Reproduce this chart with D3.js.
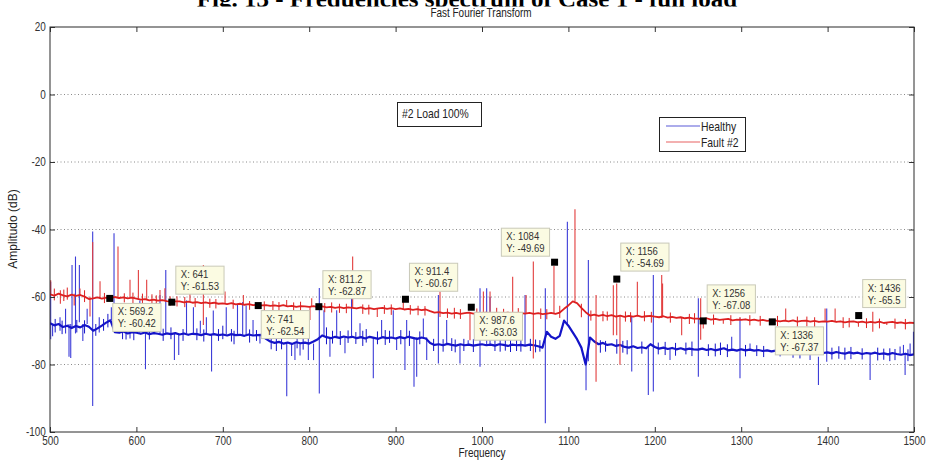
<!DOCTYPE html>
<html>
<head>
<meta charset="utf-8">
<script src="https://cdn.jsdelivr.net/npm/d3@7"></script>
<style>
body { margin: 0; background: #fff; }
svg { display: block; font-family: "Liberation Sans", Arial, sans-serif; }
</style>
</head>
<body>
<svg id="chart" width="927" height="461"></svg>
<script>
// frequency grid of the baselines (Hz), one value every 5 Hz
var freqs = d3.range(500, 1501, 5);

// Healthy spectrum baseline (dB)
var healthy = [
  -67.8, -68.4, -68.0, -68.9, -68.5, -69.2, -68.6, -69.0, -68.3, -68.8,
  -70.0, -69.3, -68.5, -67.6, -66.9, -70.4, -70.6, -70.2, -70.8, -70.4,
  -70.6, -70.9, -70.5, -71.0, -70.7, -70.9, -71.2, -70.8, -71.0, -70.7,
  -71.1, -70.8, -71.2, -70.9, -71.0, -71.3, -70.9, -71.2, -71.0, -71.3,
  -71.1, -71.4, -71.0, -71.3, -71.2, -71.5, -71.1, -71.4, -71.3, -71.2,
  -72.4, -73.2, -73.6, -73.3, -73.8, -73.5, -73.9, -73.4, -73.7, -73.5,
  -73.8, -73.2, -72.5, -71.4, -71.9, -72.2, -71.8, -72.1, -71.7, -72.0,
  -71.8, -72.2, -71.9, -72.3, -71.8, -72.1, -72.4, -71.9, -72.2, -72.0,
  -72.3, -71.9, -72.2, -71.8, -72.1, -72.4, -72.0, -72.3, -73.6, -74.2,
  -74.0, -74.3, -73.9, -74.2, -74.4, -74.0, -74.3, -74.1, -74.4, -74.2,
  -74.0, -74.3, -74.1, -74.4, -74.0, -74.2, -74.5, -74.1, -74.3, -74.2,
  -74.4, -74.1, -74.3, -74.6, -75.0, -70.3, -71.8, -72.4, -71.5, -67.0,
  -68.5, -70.5, -72.5, -75.0, -80.0, -72.0, -73.2, -74.0, -73.6, -74.2,
  -74.0, -74.5, -74.2, -74.8, -75.0, -74.6, -75.1, -74.9, -75.2, -74.0,
  -74.8, -75.3, -75.0, -75.4, -75.1, -75.5, -75.2, -75.6, -75.3, -75.5,
  -75.6, -75.3, -75.7, -75.4, -75.8, -75.5, -75.2, -75.8, -75.6, -75.9,
  -75.5, -75.8, -75.6, -75.9, -75.7, -76.0, -75.8, -76.1, -75.9, -76.0,
  -76.2, -75.9, -76.3, -76.0, -76.4, -76.1, -76.3, -76.5, -76.2, -76.6,
  -76.4, -76.7, -76.3, -76.6, -76.8, -76.4, -76.7, -76.5, -76.9, -76.6,
  -76.8, -76.5, -76.9, -76.7, -77.0, -76.6, -76.9, -77.1, -76.8, -77.2,
  -77.0
];

// Fault #2 spectrum baseline (dB)
var fault = [
  -59.2, -59.6, -59.0, -59.5, -59.8, -59.3, -59.7, -59.4, -59.9, -60.6,
  -60.4, -60.1, -60.5, -60.2, -60.4, -60.0, -60.3, -60.1, -60.4, -60.2,
  -60.5, -60.8, -60.6, -61.0, -60.8, -61.1, -60.9, -61.2, -61.4, -61.3,
  -61.3, -61.6, -61.4, -61.7, -61.5, -61.8, -61.6, -61.9, -61.7, -62.0,
  -61.9, -62.1, -61.8, -62.2, -62.0, -62.3, -62.1, -62.4, -62.3, -62.5,
  -62.4, -62.6, -62.5, -62.7, -62.4, -62.8, -62.6, -62.9, -62.7, -62.8,
  -62.9, -62.7, -63.0, -62.8, -63.1, -62.9, -63.2, -63.0, -63.3, -63.1,
  -63.2, -63.4, -63.1, -63.5, -63.3, -63.6, -63.4, -63.2, -63.5, -63.3,
  -63.6, -63.4, -63.7, -63.5, -63.8, -63.6, -63.9, -63.7, -64.2, -64.6,
  -64.5, -64.8, -64.6, -64.9, -64.7, -65.0, -64.8, -64.6, -64.9, -64.7,
  -64.8, -64.6, -64.9, -64.7, -65.0, -64.8, -64.6, -64.9, -64.7, -64.8,
  -64.9, -64.7, -65.0, -64.8, -65.1, -64.9, -64.7, -65.0, -64.6, -63.5,
  -62.5, -61.3, -61.8, -63.2, -64.5, -65.5, -65.2, -65.6, -65.3, -65.7,
  -65.4, -65.8, -65.5, -65.9, -65.6, -65.8, -65.5, -65.9, -65.7, -65.6,
  -65.8, -66.0, -65.7, -66.1, -65.9, -66.2, -66.0, -66.3, -66.1, -66.4,
  -66.4, -66.6, -66.3, -66.7, -66.5, -66.8, -66.6, -66.5, -66.9, -66.7,
  -66.8, -66.6, -66.9, -66.7, -67.0, -66.8, -67.1, -66.9, -67.0, -67.2,
  -67.0, -67.2, -66.9, -67.3, -67.1, -67.0, -67.3, -67.1, -67.4, -67.2,
  -67.3, -67.1, -67.4, -67.2, -67.5, -67.3, -67.2, -67.5, -67.3, -67.6,
  -67.4, -67.6, -67.3, -67.7, -67.5, -67.4, -67.7, -67.5, -67.8, -67.6,
  -67.7
];

// narrow peaks: [frequency, low dB, high dB]
var healthySpikes = [
  [500.8, -72.5, -55.5], [503, -71.6, -68], [511.6, -70, -66], [518, -70.8, -63.5],
  [522, -77.7, -68], [524, -78.1, -68], [525.5, -69, -50.5], [529.5, -70.8, -48],
  [534, -67.5, -50.5], [538, -73, -68], [543, -68, -63.5], [549.4, -92.3, -40.6],
  [557, -70.5, -66], [571, -66.8, -63], [574.1, -70, -41.1], [592.6, -72.3, -69],
  [604, -70.6, -61], [610.5, -81.4, -70.5], [621, -70.8, -62], [627.3, -70.8, -59.4],
  [634, -70.8, -52], [644, -78.7, -70.8], [649, -77.2, -70.8], [658, -70.8, -61],
  [666, -70.8, -63], [674, -70.8, -67], [681, -70.8, -66], [687, -82.1, -71],
  [689, -71, -64], [704, -71.1, -63], [717, -71.2, -62], [723, -71.2, -61.5],
  [727, -71.2, -62.5], [735, -71.2, -66.8], [743, -73.8, -71.2],
  [774, -89.4, -73.6], [779.6, -77.5, -73.6], [783.5, -78.7, -73.6], [789.4, -77.3, -73.6],
  [799, -78.7, -66.8], [805, -78.7, -73.8], [811.7, -88.6, -57.3], [817.1, -71.8, -63.9],
  [824, -77.7, -72], [831.8, -72, -63.9], [841.4, -76.7, -72], [849, -72, -55.9],
  [858.8, -72, -67.8], [874.2, -84.1, -72], [883.8, -72, -66.8], [897.3, -72, -63.9],
  [901.2, -75.7, -72], [910.8, -81.6, -72], [912.8, -72, -66.8], [921.3, -86.6, -72],
  [924.4, -83.6, -72], [932.1, -72, -66.4], [936, -78.7, -72], [949.5, -79.7, -59.4],
  [959.1, -74.2, -66.8], [974.5, -79.7, -74.2], [984, -74.2, -72.8], [997.7, -80.7, -57.4],
  [1005.4, -74.2, -57.4], [1009.3, -74.2, -59.9], [1049.8, -74.2, -59.4], [1073.3, -97.4, -57.4],
  [1098.8, -68, -37.7], [1120.4, -87.6, -80], [1123.1, -79, -49], [1173.3, -82.1, -65.8],
  [1192.5, -89, -74.9], [1198.3, -88, -53.5], [1217.6, -78.7, -75.2], [1250.4, -83.6, -60.4],
  [1289, -75.7, -71.8], [1298.6, -84.1, -66.3], [1310.2, -75.8, -73.8], [1379.7, -78.7, -76],
  [1389.4, -86.1, -77.7], [1399, -79.2, -63.4], [1449.2, -84.6, -76.7], [1483.9, -76.8, -74.7],
  [1487.8, -76.8, -74.2], [1489.7, -83.1, -76.8], [1495.5, -77, -73.8], [1499.4, -77, -70.3]
];

var faultSpikes = [
  [500.8, -59.5, -55], [512, -62, -58], [528, -62.5, -59], [534.7, -59.8, -57.5],
  [546.3, -65.8, -59.9], [549.4, -60.5, -43.7], [557.9, -60.4, -55.3], [578.7, -60.2, -45],
  [592.6, -60.2, -54.9], [602.3, -60.5, -52], [611.9, -60.8, -54.9], [627.3, -61, -57.9],
  [633, -61.1, -57.4], [662, -61.4, -57.9], [677.5, -68.3, -50.5], [702.6, -62, -58.4],
  [723.8, -62.1, -59.4], [773.9, -62.7, -60.9], [800.9, -66.8, -62.8], [802.9, -62.9, -60.4],
  [850.3, -63.2, -48], [878.8, -65.9, -63.4], [908.9, -63.7, -60.9], [951.4, -65.9, -58.4],
  [986.1, -72.8, -64.7], [1001.6, -64.8, -58.4], [1009.3, -64.8, -58.4], [1035.5, -64.8, -54],
  [1051, -64.8, -59.4], [1059.4, -78.2, -49.5], [1083.3, -64.8, -50.8], [1107.6, -61.3, -34],
  [1132, -85.1, -59.4], [1152, -71.3, -56.5], [1155.9, -71.3, -56], [1159.7, -80.1, -65.6],
  [1179.8, -65.7, -55.5], [1208, -66.2, -53.5], [1209, -66, -56], [1231.1, -71.3, -66.1],
  [1253.1, -72.7, -60.4], [1256.1, -69.3, -66.6], [1279.3, -67.9, -66.6], [1298.6, -66.7, -65.9],
  [1351.5, -67.1, -63.4], [1397.1, -67.2, -63.4], [1408.7, -67.3, -63.4], [1435.7, -68.8, -67.3],
  [1452.3, -70.3, -64.4], [1468.5, -68.3, -67.5]
];

// the small ripples that make the baselines look fuzzy: [frequency, low dB, high dB]
var healthyRipple = [
  [506, -70.5, -66.5], [514, -71, -67], [531, -70.5, -66.8], [540, -70.8, -66.9],
  [553, -71.5, -68], [562, -70, -66.5], [567, -69, -65], [584, -72.5, -69.2],
  [588, -72.6, -69.5], [597, -72.8, -69.3], [615, -72.6, -69.4], [631, -73, -69.4],
  [640, -72.5, -69], [654, -73, -69.5], [670, -72.8, -69.3], [678, -73.2, -69.6],
  [695, -73, -69.5], [700, -72.5, -68.5], [710, -73.2, -69.5], [713, -74, -70],
  [731, -73.5, -69.6], [739, -73, -69.8], [756, -75.5, -71.5], [762, -76, -72],
  [768, -75.5, -71.8], [786, -75.2, -72], [793, -75.6, -71.9], [820, -74, -69],
  [827, -73.8, -70], [836, -74.2, -70.1], [845, -73.6, -69.9], [854, -73.9, -70.4],
  [862, -74.5, -70], [866, -73.5, -69.5], [879, -74, -70.2], [888, -74.2, -69.8],
  [893, -73.6, -70], [906, -74, -69.8], [916, -74.5, -70], [928, -74, -70.2],
  [944, -76, -72.4], [955, -76.2, -72.5], [965, -76, -72.2], [969, -76.4, -72.6],
  [979, -76, -72.4], [990, -76.3, -72.5], [1015, -76, -72.6], [1021, -76.2, -72.4],
  [1027, -75.9, -72.5], [1033, -76.3, -72.2], [1040, -76, -72.6], [1045, -76.2, -72.3],
  [1056, -76, -72.4], [1062, -76.4, -72.6], [1067, -76.2, -72.8], [1137, -76.5, -72.8],
  [1143, -76.2, -73], [1156, -76.8, -72.5], [1163, -76.5, -73], [1168, -77, -72.8],
  [1185, -76.8, -73.2], [1204, -77, -73.5], [1212, -77.2, -73.3], [1224, -77.4, -73.6],
  [1236, -77, -73.5], [1243, -77.5, -73.2], [1262, -77.5, -74], [1270, -77.6, -73.8],
  [1276, -77.2, -73.5], [1284, -77.8, -74], [1305, -77.6, -74.2], [1318, -77.5, -74.3],
  [1326, -77.8, -74.5], [1345, -77.6, -74.6], [1360, -78, -74.5], [1368, -78.2, -74.8],
  [1405, -78.5, -75], [1413, -78.3, -74.6], [1420, -78.6, -75], [1427, -78.4, -74.8],
  [1440, -78.5, -75.2], [1458, -78.8, -75], [1465, -78.6, -75.3], [1472, -79, -75.2],
  [1478, -78.7, -75.4], [1493, -79, -75.5]
];

var faultRipple = [
  [505, -61, -57.5], [516, -61.2, -57.8], [520, -60.8, -57.2], [540, -61.5, -58],
  [563, -61.8, -58.8], [586, -61.6, -58.9], [596, -61.8, -58.7], [607, -62, -59],
  [618, -62.3, -59.2], [623, -62.2, -59.5], [639, -62.6, -59.8], [647, -62.8, -59.8],
  [656, -63, -60], [668, -63, -60.3], [685, -63.2, -60.5], [692, -63.4, -60.6],
  [712, -63.5, -60.8], [731, -63.8, -61.2], [748, -64, -61.3], [758, -64, -61.2],
  [765, -64.3, -61.5], [782, -64.4, -61.6], [790, -64.2, -61.4], [818, -64.5, -61.8],
  [826, -64.6, -61.6], [835, -64.7, -62], [843, -64.8, -62], [862, -65, -62.2],
  [869, -65.2, -62.3], [887, -65, -62.4], [895, -65.3, -62.2], [917, -65.2, -62.4],
  [926, -65.4, -62.6], [934, -65.5, -62.7], [960, -66.2, -63.4], [968, -66.4, -63.2],
  [975, -66.5, -63.6], [994, -66.5, -63.4], [1017, -66.4, -63.2], [1025, -66.6, -63.5],
  [1042, -66.4, -63.3], [1068, -66.5, -63.4], [1075, -66.6, -63.6], [1090, -66.2, -62.6],
  [1115, -66, -62], [1126, -67, -64], [1140, -67.2, -64.2], [1145, -67, -64.3],
  [1166, -67.3, -64.3], [1172, -67.5, -64.5], [1188, -67.2, -64.2], [1196, -67.6, -64.4],
  [1218, -67.6, -64.6], [1240, -68, -65], [1246, -67.8, -64.8], [1268, -68.2, -65.2],
  [1288, -68.3, -65.4], [1310, -68.4, -65.4], [1322, -68.5, -65.6], [1342, -68.6, -65.6],
  [1365, -68.8, -65.8], [1376, -68.7, -65.8], [1385, -69, -66], [1418, -69.2, -66],
  [1425, -69, -66.2], [1445, -69.2, -66.3], [1460, -69.3, -66.4], [1478, -69.4, -66.4],
  [1490, -69.6, -66.5]
];

// data cursors shown on the figure
var tipX = [569.2, 641, 741, 811.2, 911.4, 987.6, 1084, 1156, 1256, 1336, 1436];
var tipY = [-60.42, -61.53, -62.54, -62.87, -60.67, -63.03, -49.69, -54.69, -67.08, -67.37, -65.5];

var xTicks = [500, 600, 700, 800, 900, 1000, 1100, 1200, 1300, 1400, 1500];
var yTicks = [20, 0, -20, -40, -60, -80, -100];
var gridTicks = [0, -20, -40, -60, -80];
var seriesNames = ["Healthy", "Fault #2"];

var margin = {top: 27, right: 13, bottom: 29, left: 50},
    width = 927 - margin.left - margin.right,
    height = 461 - margin.top - margin.bottom;

var x = d3.scaleLinear().domain([500, 1500]).range([0, width]),
    y = d3.scaleLinear().domain([-100, 20]).range([height, 0]);

var blue = "#1414c8", blueSpike = "#3c3cd8",
    red = "#dd2020", redSpike = "#e23c3c";

// the scan squeezes the sans-serif text horizontally
var squeeze = 0.83;
var placeText = function(sel, px, py) {
    sel.attr("transform", "translate(" + px + "," + py + ") scale(" + squeeze + ",1)");
    return sel;
}

var svg = d3.select("#chart");

// figure caption of the page: only its lower part shows above the figure
svg.append("clipPath").attr("id", "capclip")
  .append("rect").attr("x", 0).attr("y", 0).attr("width", 927).attr("height", 6.5);
svg.append("text")
    .attr("clip-path", "url(#capclip)")
    .attr("x", 467).attr("y", 6.5)
    .attr("text-anchor", "middle")
    .style("font-family", "'Liberation Serif', 'Times New Roman', serif")
    .style("font-weight", "bold")
    .style("font-size", "25px")
    .attr("fill", "#000")
    .text("Fig. 13 - Frequencies spectrum of Case 1 - full load");

placeText(svg.append("text"), 481, 16.5)
    .attr("text-anchor", "middle")
    .style("font-size", "12px")
    .attr("fill", "#222")
    .text("Fast Fourier Transform");

var g = svg.append("g")
    .attr("transform", "translate(" + margin.left + "," + margin.top + ")");

g.append("clipPath").attr("id", "plotclip")
  .append("rect").attr("width", width).attr("height", height);

// dotted grid
g.append("g").selectAll("line")
    .data(gridTicks)
    .enter().append("line")
    .attr("x1", 0).attr("x2", width)
    .attr("y1", function(d) { return y(d); })
    .attr("y2", function(d) { return y(d); })
    .attr("stroke", "#8a8a8a")
    .attr("stroke-width", 1)
    .attr("stroke-dasharray", "1,2.5");

var line = d3.line()
    .x(function(d, i) { return x(freqs[i]); })
    .y(function(d) { return y(d); });

var plot = g.append("g").attr("clip-path", "url(#plotclip)");

var drawSticks = function(sticks, color, w) {
    plot.append("g").selectAll("line")
        .data(sticks)
        .enter().append("line")
        .attr("x1", function(d) { return x(d[0]); })
        .attr("x2", function(d) { return x(d[0]); })
        .attr("y1", function(d) { return y(d[1]); })
        .attr("y2", function(d) { return y(d[2]); })
        .attr("stroke", color)
        .attr("stroke-width", w);
}

var drawSeries = function(values, spikes, ripple, color, spikeColor, lw) {
    drawSticks(spikes, spikeColor, 1.1);
    drawSticks(ripple, color, 1);
    plot.append("path")
        .datum(values)
        .attr("d", line)
        .attr("fill", "none")
        .attr("stroke", color)
        .attr("stroke-width", lw)
        .attr("stroke-linejoin", "round");
}

drawSeries(healthy, healthySpikes, healthyRipple, blue, blueSpike, 2.2);
drawSeries(fault, faultSpikes, faultRipple, red, redSpike, 1.8);

// axes: ticks pointing inward on all four sides
var noLabel = function() { return ""; };
g.append("g")
    .attr("transform", "translate(0," + height + ")")
    .call(d3.axisBottom(x).tickValues(xTicks).tickSizeInner(-5).tickSizeOuter(0).tickPadding(4)
        .tickFormat(function(d) { return String(d); }));
g.append("g")
    .call(d3.axisTop(x).tickValues(xTicks).tickSizeInner(-5).tickSizeOuter(0).tickFormat(noLabel));
g.append("g")
    .call(d3.axisLeft(y).tickValues(yTicks).tickSizeInner(-5).tickSizeOuter(0).tickPadding(5)
        .tickFormat(function(d) { return String(d); }));
g.append("g")
    .attr("transform", "translate(" + width + ",0)")
    .call(d3.axisRight(y).tickValues(yTicks).tickSizeInner(-5).tickSizeOuter(0).tickFormat(noLabel));

g.selectAll(".domain").remove();
g.selectAll(".tick line").attr("stroke", "#333");
g.selectAll(".tick text")
    .attr("fill", "#333")
    .attr("transform", "scale(" + squeeze + ",1)")
    .style("font-family", "'Liberation Sans', Arial, sans-serif")
    .style("font-size", "12px");

g.append("rect")
    .attr("width", width).attr("height", height)
    .attr("fill", "none")
    .attr("stroke", "#2a2a2a")
    .attr("stroke-width", 1);

// data cursor markers and their yellow boxes
var tipSide = ["se", "ne", "se", "ne", "ne", "se", "nw", "ne", "ne", "se", "ne"];
tipX.forEach(function(tx, i) {
    var mx = x(tx), my = y(tipY[i]);
    var tip = g.append("g");
    var box = tip.append("rect");
    var t1 = tip.append("text").text("X: " + tx);
    var t2 = tip.append("text").text("Y: " + tipY[i]);
    tip.selectAll("text")
        .attr("fill", "#333")
        .style("font-size", "11.5px");
    var w = Math.max(t1.node().getComputedTextLength(), t2.node().getComputedTextLength()) * squeeze + 10,
        h = 28;
    var bx, by;
    if (tipSide[i] == "se") { bx = mx + 3; by = my + 5; }
    else if (tipSide[i] == "ne") { bx = mx + 4; by = my - 8 - h; }
    else { bx = mx - 5 - w; by = my - 6 - h; }
    box.attr("x", bx).attr("y", by).attr("width", w).attr("height", h)
        .attr("fill", "#fbfbe2")
        .attr("stroke", "#c9c9b8")
        .attr("stroke-width", 1);
    placeText(t1, bx + 5, by + 12);
    placeText(t2, bx + 5, by + 24);
    g.append("rect")
        .attr("x", mx - 3.5).attr("y", my - 3.5)
        .attr("width", 7).attr("height", 7)
        .attr("fill", "#000");
});

// text annotation
svg.append("rect")
    .attr("x", 397.5).attr("y", 102.5).attr("width", 84).attr("height", 24)
    .attr("fill", "#fff").attr("stroke", "#222");
placeText(svg.append("text"), 402, 118)
    .style("font-size", "12.5px").attr("fill", "#222")
    .text("#2 Load 100%");

// legend
var legend = svg.append("g").attr("transform", "translate(659,117)");
legend.append("rect")
    .attr("x", 0.5).attr("y", 0.5).attr("width", 86).attr("height", 34)
    .attr("fill", "#fff").attr("stroke", "#222");
[blue, red].forEach(function(c, i) {
    legend.append("line")
        .attr("x1", 7).attr("x2", 41)
        .attr("y1", 9 + i * 16).attr("y2", 9 + i * 16)
        .attr("stroke", c).attr("stroke-opacity", 0.7).attr("stroke-width", 1.2);
    placeText(legend.append("text"), 42, 13.5 + i * 16)
        .style("font-size", "12.5px").attr("fill", "#222")
        .text(seriesNames[i]);
});

// axis titles
placeText(svg.append("text"), 482, 457)
    .attr("text-anchor", "middle")
    .style("font-size", "12px").attr("fill", "#222")
    .text("Frequency");
svg.append("text")
    .attr("transform", "translate(17,229) rotate(-90)")
    .attr("text-anchor", "middle")
    .style("font-size", "12px").attr("fill", "#222")
    .text("Amplitudo (dB)");
</script>
</body>
</html>
